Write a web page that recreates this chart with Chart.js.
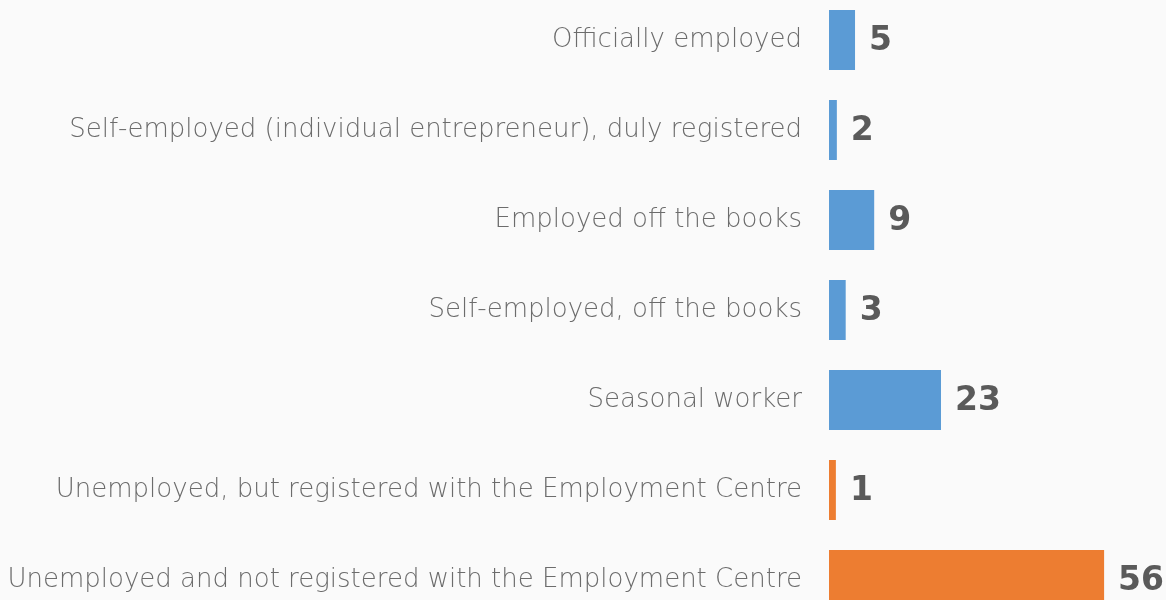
<!DOCTYPE html>
<html>
<head>
<meta charset="utf-8">
<script src="https://cdn.jsdelivr.net/npm/chart.js"></script>
<style>
  html, body { margin: 0; padding: 0; background: #fafafa; overflow: hidden; }
  #wrap { position: absolute; left: 0; top: -5px; width: 1166px; height: 630px; }
</style>
</head>
<body>
<div id="wrap"><canvas id="myChart"></canvas></div>
<script>
  // categories (top to bottom)
  const categories = [
    'Officially employed',
    'Self-employed (individual entrepreneur), duly registered',
    'Employed off the books',
    'Self-employed, off the books',
    'Seasonal worker',
    'Unemployed, but registered with the Employment Centre',
    'Unemployed and not registered with the Employment Centre'
  ];
  // shares in % (labels show rounded values)
  const values = [5.3, 1.6, 9.2, 3.4, 22.8, 1.4, 56.0];
  // group of each category: employed / unemployed
  const groups = ['employed', 'employed', 'employed', 'employed', 'employed', 'unemployed', 'unemployed'];

  const groupColors = { employed: '#5b9bd5', unemployed: '#ed7d31' };

  // draws the rounded value to the right of each bar
  const valueLabels = {
    id: 'valueLabels',
    afterDatasetsDraw(chart) {
      const ctx = chart.ctx;
      const meta = chart.getDatasetMeta(0);
      ctx.save();
      ctx.font = 'bold 33px "DejaVu Sans"';
      ctx.fillStyle = '#5a5a5a';
      ctx.textAlign = 'left';
      ctx.textBaseline = 'middle';
      meta.data.forEach((bar, i) => {
        ctx.fillText(String(Math.round(values[i])), bar.x + 14, bar.y + 1);
      });
      ctx.restore();
    }
  };

  const ctx = document.getElementById('myChart');
  new Chart(ctx, {
    type: 'bar',
    data: {
      labels: categories,
      datasets: [{
        data: values,
        backgroundColor: groups.map(g => groupColors[g]),
        barPercentage: 0.667,
        categoryPercentage: 1
      }]
    },
    options: {
      indexAxis: 'y',
      responsive: true,
      maintainAspectRatio: false,
      animation: false,
      layout: { padding: 0 },
      plugins: {
        legend: { display: false },
        tooltip: { enabled: false }
      },
      scales: {
        x: { display: false, min: 0, max: 68.6 },
        y: {
          grid: { display: false, drawTicks: false },
          border: { display: false },
          ticks: {
            padding: 27,
            color: '#6c6c6c',
            font: { family: '"DejaVu Sans"', size: 26, weight: '200' }
          },
          afterFit(scale) {
            scale.width = 829;
            scale.paddingTop = 0;
            scale.paddingBottom = 0;
          }
        }
      }
    },
    plugins: [valueLabels]
  });
</script>
</body>
</html>
